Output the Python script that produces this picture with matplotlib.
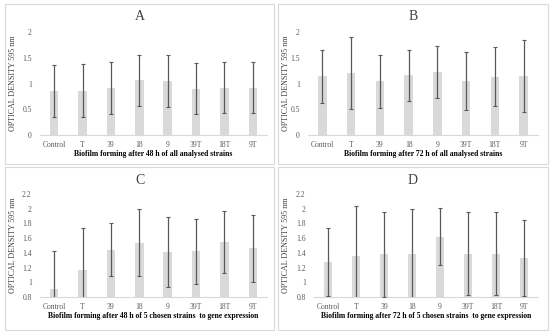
import matplotlib
matplotlib.use("Agg")
import matplotlib.pyplot as plt
from matplotlib.patches import Rectangle
from matplotlib.ticker import FuncFormatter

plt.rcParams['font.family'] = ['Liberation Serif', 'DejaVu Serif']

strains = ["Control", "T", "39", "18", "9", "39T", "18T", "9T"]

od_a = [0.85, 0.86, 0.91, 1.06, 1.05, 0.90, 0.92, 0.92]
err_a = [0.50, 0.51, 0.50, 0.50, 0.50, 0.50, 0.50, 0.50]

od_b = [1.14, 1.20, 1.04, 1.16, 1.22, 1.05, 1.13, 1.15]
err_b = [0.51, 0.70, 0.52, 0.50, 0.51, 0.57, 0.57, 0.70]

od_c = [0.91, 1.17, 1.44, 1.54, 1.41, 1.42, 1.55, 1.46]
err_c = [0.52, 0.57, 0.36, 0.45, 0.48, 0.44, 0.42, 0.46]

od_d = [1.28, 1.36, 1.38, 1.39, 1.62, 1.39, 1.39, 1.33]
err_d = [0.46, 0.68, 0.58, 0.60, 0.39, 0.56, 0.56, 0.52]

W, H = 550, 335
fig = plt.figure(figsize=(W / 100, H / 100), dpi=100)

def px_axes(x0, y0, x1, y1):
    return fig.add_axes([x0 / W, 1 - y1 / H, (x1 - x0) / W, (y1 - y0) / H])

panels = [
    ("A", od_a, err_a, (0, 2), [0, 0.5, 1, 1.5, 2],
     "Biofilm forming after 48 h of all analysed strains",
     (5, 4, 274, 164), (40, 32, 267, 135)),
    ("B", od_b, err_b, (0, 2), [0, 0.5, 1, 1.5, 2],
     "Biofilm forming after 72 h of all analysed strains",
     (278, 4, 548, 164), (308, 32, 538, 135)),
    ("C", od_c, err_c, (0.8, 2.2), [0.8, 1, 1.2, 1.4, 1.6, 1.8, 2, 2.2],
     "Biofilm forming after 48 h of 5 chosen strains  to gene expression",
     (5, 167, 274, 330), (40, 194, 267, 297)),
    ("D", od_d, err_d, (0.8, 2.2), [0.8, 1, 1.2, 1.4, 1.6, 1.8, 2, 2.2],
     "Biofilm forming after 72 h of 5 chosen strains  to gene expression",
     (278, 167, 548, 330), (314, 194, 538, 297)),
]

for title, vals, errs, ylim, yticks, xlab, box, area in panels:
    bx0, by0, bx1, by1 = box
    fig.patches.append(Rectangle((bx0 / W, 1 - by1 / H), (bx1 - bx0) / W, (by1 - by0) / H,
                                 transform=fig.transFigure, fill=False,
                                 edgecolor="#d9d9d9", linewidth=0.8))
    fig.text((bx0 + bx1) / 2 / W, 1 - (by0 + 13) / H, title, ha="center", va="center",
             fontsize=10, color="#404040")

    ax = px_axes(*area)
    x = range(len(strains))
    ax.bar(x, vals, width=0.3, color="#d9d9d9", zorder=2)
    ax.errorbar(x, vals, yerr=errs, fmt="none", ecolor="#595959", elinewidth=0.9,
                capsize=1.5, capthick=0.8, zorder=3)
    ax.set_xlim(-0.5, len(strains) - 0.5)
    ax.set_ylim(*ylim)
    ax.set_yticks(yticks)
    ax.yaxis.set_major_formatter(FuncFormatter(lambda v, p: "%g" % round(v, 1)))
    ax.set_xticks(list(x))
    ax.set_xticklabels(strains)
    for s in ["top", "right", "left"]:
        ax.spines[s].set_visible(False)
    ax.spines["bottom"].set_color("#d9d9d9")
    ax.spines["bottom"].set_linewidth(0.8)
    ax.tick_params(axis="x", length=0, labelsize=5.5, labelcolor="#595959", pad=4)
    ax.tick_params(axis="y", length=0, labelsize=5.5, labelcolor="#595959", pad=6)
    ax.set_xlabel(xlab, fontsize=5.5, fontweight="bold", color="#000000", labelpad=1)
    ax.set_ylabel("OPTICAL DENSITY 595 nm", fontsize=5.8, color="#404040")
    ax.yaxis.set_label_coords(-(area[0] - bx0 - 12) / (area[2] - area[0]), 0.5)

fig.savefig("out.png", dpi=100)
